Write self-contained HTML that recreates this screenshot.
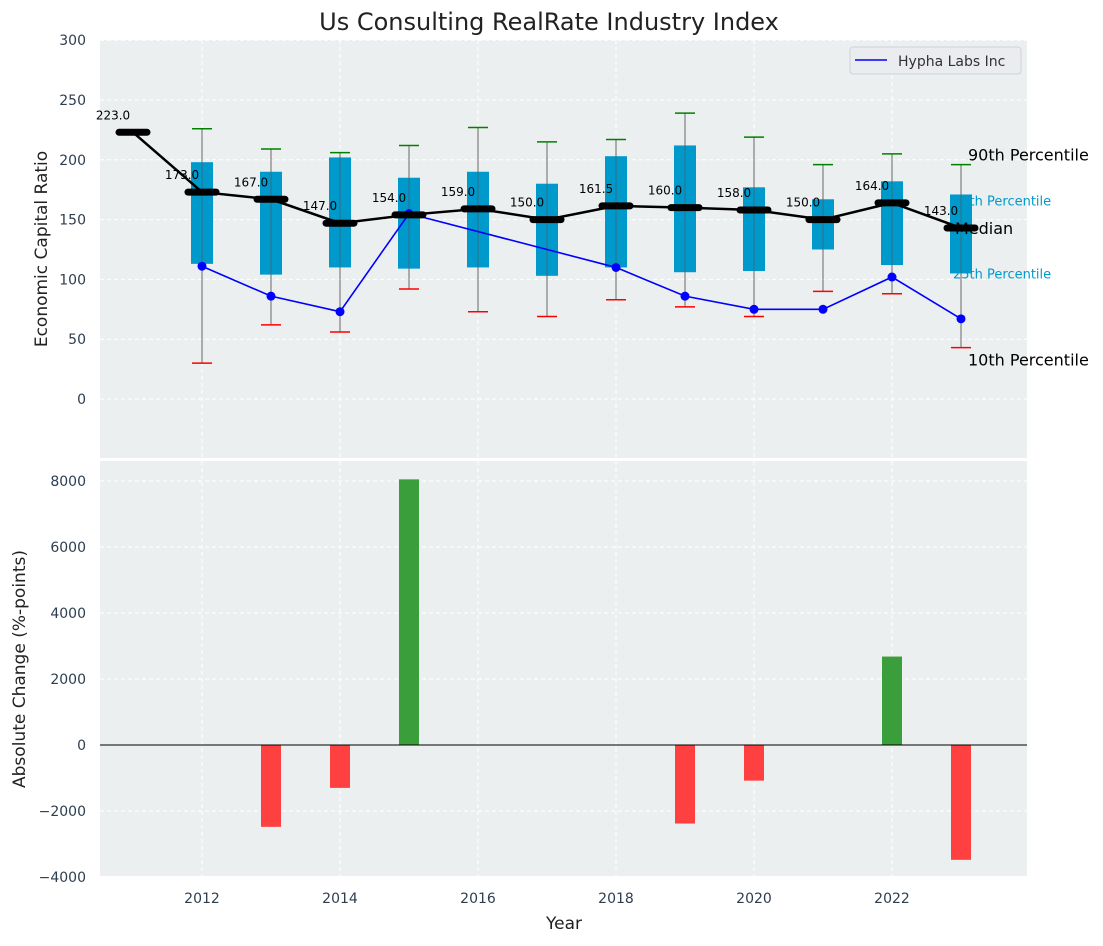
<!DOCTYPE html>
<html><head><meta charset="utf-8"><style>
body{margin:0;background:#fff;font-family:"DejaVu Sans","Liberation Sans",sans-serif}
svg text{font-family:"DejaVu Sans","Liberation Sans",sans-serif}
</style></head><body>
<svg id="c" width="1103" height="942" xmlns="http://www.w3.org/2000/svg"></svg>
<script>
const years=[2011,2012,2013,2014,2015,2016,2017,2018,2019,2020,2021,2022,2023];
const medians=[223,173,167,147,154,159,150,161.5,160,158,150,164,143];
const p25=[null,113,104,110,109,110,103,110,106,107,125,112,105];
const p75=[null,198,190,202,185,190,180,203,212,177,167,182,171];
const p10=[null,30,62,56,92,73,69,83,77,69,90,88,43];
const p90=[null,226,209,206,212,227,215,217,239,219,196,205,196];
const hyphaYears=[2012,2013,2014,2015,2018,2019,2020,2021,2022,2023];
const hyphaVals=[111,86,73,155,110,86,75,75,102,67];
const changeYears=[2013,2014,2015,2019,2020,2022,2023];
const changeVals=[-2480,-1300,8050,-2380,-1080,2680,-3480];
const topTicks=[0,50,100,150,200,250,300];
const botTicks=[-4000,-2000,0,2000,4000,6000,8000];
const xTicks=[2012,2014,2016,2018,2020,2022];

const L=100,R=1027,T1=40,B1=458,T2=461,B2=876;
const X=v=>202+(v-2012)*69;
const Y1=v=>399-(v)*1.196;
const Y2=v=>745-v*0.033;
const svg=document.getElementById('c');
function el(t,a,txt){const e=document.createElementNS('http://www.w3.org/2000/svg',t);for(const k in a)e.setAttribute(k,a[k]);if(txt!==undefined)e.textContent=txt;svg.appendChild(e);return e;}
let e;
e=el('rect',{x:L,y:T1,width:R-L,height:B1-T1,fill:'#eceff0'});


e=el('rect',{x:L,y:T2,width:R-L,height:B2-T2,fill:'#eceff0'});


const g='stroke:#fff;stroke-dasharray:4,3;stroke-width:1';
xTicks.forEach(v=>{
 el('line',{x1:X(v),x2:X(v),y1:T1,y2:B1,style:g});
 el('line',{x1:X(v),x2:X(v),y1:T2,y2:B2,style:g});
 e=el('text',{x:X(v),y:903,'text-anchor':'middle','font-size':14,fill:'#2d3e50'},v);
 
 
});
topTicks.forEach(v=>{
 el('line',{x1:L,x2:R,y1:Y1(v),y2:Y1(v),style:g});
 e=el('text',{x:86,y:Y1(v)+5,'text-anchor':'end','font-size':14,fill:'#2d3e50'},v);
 
 
});
botTicks.forEach(v=>{
 el('line',{x1:L,x2:R,y1:Y2(v),y2:Y2(v),style:g});
 e=el('text',{x:86,y:Y2(v)+5,'text-anchor':'end','font-size':14,fill:'#2d3e50'},v<0?'\u2212'+(-v):v);
 
 
});
// right labels (behind boxes)
const lx=968;
e=el('text',{x:953,y:Y1(p75[12])+11,'font-size':13,fill:'#0099cc'},'75th Percentile');


e=el('text',{x:953,y:Y1(p25[12])+5,'font-size':13,fill:'#0099cc'},'25th Percentile');


// whiskers & boxes
years.forEach((yr,i)=>{
 if(p25[i]===null)return;
 const x=X(yr);
 e=el('line',{x1:x,x2:x,y1:Y1(p90[i]),y2:Y1(p10[i]),stroke:'#888',"stroke-width":1});
 
 
 e=el('rect',{x:x-11,y:Y1(p75[i]),width:22,height:Y1(p25[i])-Y1(p75[i]),fill:'#0099cc'});
 
 
 el('line',{x1:x,x2:x,y1:Y1(p90[i]),y2:Y1(p10[i]),stroke:'#555',"stroke-width":1,opacity:0.6});
 e=el('line',{x1:x-10,x2:x+10,y1:Y1(p90[i]),y2:Y1(p90[i]),stroke:'green',"stroke-width":1.5});
 
 
 e=el('line',{x1:x-10,x2:x+10,y1:Y1(p10[i]),y2:Y1(p10[i]),stroke:'red',"stroke-width":1.5});
 
 
});
// hypha line
e=el('polyline',{points:hyphaYears.map((y,i)=>X(y)+','+Y1(hyphaVals[i])).join(' '),fill:'none',stroke:'blue','stroke-width':1.6});


hyphaYears.forEach((y,i)=>{
 e=el('circle',{cx:X(y),cy:Y1(hyphaVals[i]),r:4.5,fill:'blue'});
 
 
});
// median line
e=el('polyline',{points:years.map((y,i)=>X(y)+','+Y1(medians[i])).join(' '),fill:'none',stroke:'#000','stroke-width':2.5});


years.forEach((y,i)=>{
 e=el('line',{x1:X(y)-14,x2:X(y)+14,y1:Y1(medians[i]),y2:Y1(medians[i]),stroke:'#000','stroke-width':7,'stroke-linecap':'round'});
 
 
 e=el('text',{x:X(y)-20,y:Y1(medians[i])-13,'text-anchor':'middle','font-size':12,fill:'#000'},medians[i].toFixed(1));
 
 
});
e=el('text',{x:955,y:Y1(medians[12])+6,'font-size':16,fill:'#000'},'Median');


e=el('text',{x:lx,y:Y1(p90[12])-4,'font-size':16,fill:'#000'},'90th Percentile');


e=el('text',{x:lx,y:Y1(p10[12])+18,'font-size':16,fill:'#000'},'10th Percentile');


// legend
e=el('rect',{x:850,y:47,width:171,height:27,rx:3,fill:'#eaecef',stroke:'#d0d3d6'});


el('line',{x1:855,x2:887,y1:60,y2:60,stroke:'blue','stroke-width':1.6});
e=el('text',{x:898,y:66,'font-size':14,fill:'#333'},'Hypha Labs Inc');


// bars
changeYears.forEach((y,i)=>{
 const v=changeVals[i];
 e=el('rect',{x:X(y)-10,y:Math.min(Y2(v),Y2(0)),width:20,height:Math.abs(Y2(v)-Y2(0)),fill:v>=0?'#3a9e3a':'#ff4040'});
 
 
});
el('line',{x1:L,x2:R,y1:Y2(0),y2:Y2(0),stroke:'#000','stroke-width':1});
// titles
e=el('text',{x:549,y:30,'text-anchor':'middle','font-size':24,fill:'#222'},'Us Consulting RealRate Industry Index');


e=el('text',{x:0,y:0,'text-anchor':'middle','font-size':17,fill:'#222',transform:'translate(47,249) rotate(-90)'},'Economic Capital Ratio');


e=el('text',{x:0,y:0,'text-anchor':'middle','font-size':17,fill:'#222',transform:'translate(25,669) rotate(-90)'},'Absolute Change (%-points)');


e=el('text',{x:564,y:929,'text-anchor':'middle','font-size':17,fill:'#222'},'Year');


</script>
</body></html>
